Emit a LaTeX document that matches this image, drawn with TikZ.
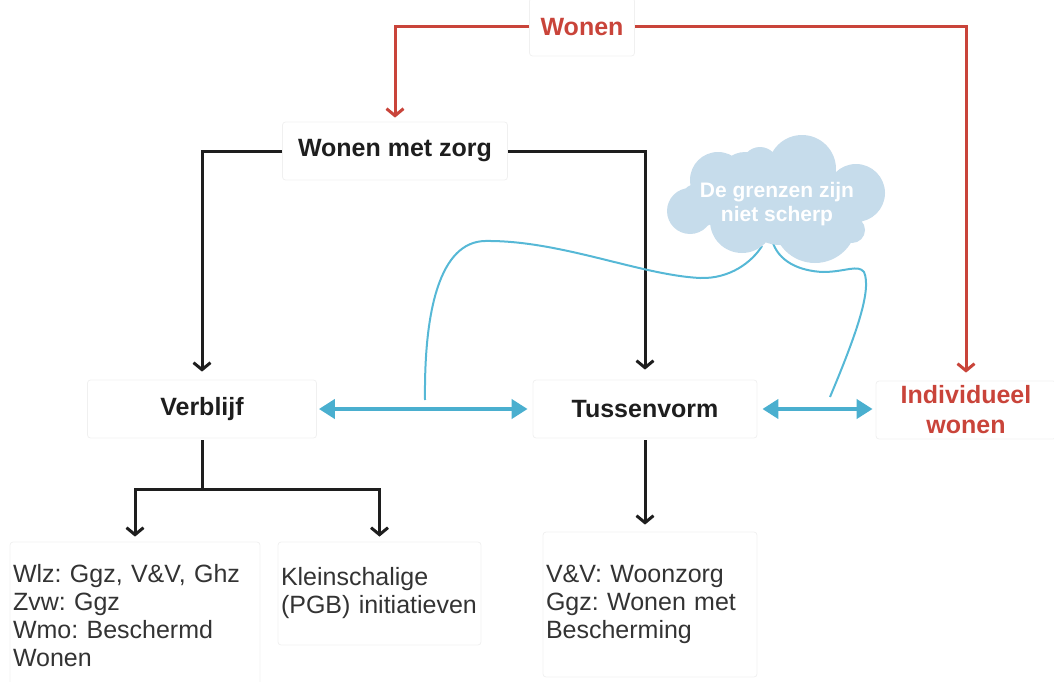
\documentclass[tikz,border=0pt]{standalone}
\usepackage{fontspec}
\setmainfont{Liberation Sans}
\usetikzlibrary{arrows.meta}
\definecolor{wred}{HTML}{C9443A}
\definecolor{wblue}{HTML}{4AAFCF}
\definecolor{cblue}{HTML}{56B8D6}
\definecolor{cloudc}{HTML}{C6DCEB}
\definecolor{faint}{HTML}{F0F0F0}
\definecolor{titc}{HTML}{1E1E1E}
\definecolor{txtc}{HTML}{333333}
\frenchspacing
\begin{document}
\begin{tikzpicture}[x=1pt,y=-1pt,
  box/.style={draw=faint, line width=0.8pt, rounded corners=3pt, inner sep=0pt,
    minimum height=58pt, text=titc, font=\fontsize{25}{30}\selectfont\bfseries},
  txt/.style={draw=faint, line width=0.8pt, rounded corners=3pt, inner xsep=3pt,
    inner ysep=0pt, align=left, text=txtc, font=\fontsize{25}{28}\selectfont},
  blk/.style={line width=3pt, draw=titc, -{Straight Barb[length=7pt,width=17pt]}},
  plain/.style={line width=3pt, draw=titc},
  redl/.style={line width=3pt, draw=wred, -{Straight Barb[length=7pt,width=17pt]}},
  barrow/.style={line width=4pt, draw=wblue, {Triangle[length=16pt,width=19pt]}-{Triangle[length=16pt,width=19pt]}},
  curve/.style={line width=2pt, draw=cblue},
  cloudtxt/.style={text=white, align=center, font=\fontsize{21}{24}\selectfont\bfseries}
]
\useasboundingbox (0,0) rectangle (1054,682);

% boxes
\node[box, minimum width=105pt, text=wred] (wonen) at (582,27) {Wonen};
\node[box, minimum width=225pt] (wmz) at (395,151) {Wonen met zorg};
\node[box, minimum width=229pt] (verb) at (202,409) {Verblijf};
\node[box, minimum width=224pt] (tus) at (645,409) {Tussenvorm};
\node[box, minimum width=180pt, text=wred, align=center] (ind) at (966,410) {Individueel\\wonen};

\node[txt, text width=244pt, minimum height=148pt] (b1) at (135,616)
  {Wlz: Ggz, V\&V, Ghz\\Zvw: Ggz\\Wmo: Beschermd\\Wonen};
\node[txt, text width=197pt, minimum height=103pt] (b2) at (379.5,593.5)
  {Kleinschalige\\(PGB) initiatieven};
\node[txt, text width=208pt, minimum height=145pt] (b3) at (650,604.5)
  {V\&V: Woonzorg\\Ggz: Wonen met\\Bescherming};

% red connectors
\draw[redl, shorten >=4pt] (wonen.west) -| (wmz.north);
\draw[redl, shorten >=8pt] (wonen.east) -| (ind.north);

% black connectors
\draw[blk, shorten >=8pt] (wmz.west) -| (verb.north);
\draw[blk, shorten >=10pt] (wmz.east) -| (tus.north);
\coordinate (j) at (202,489);
\draw[plain, shorten <=2pt] (verb.south) -- (j);
\draw[blk, shorten >=5pt] (j) -| (b1.north);
\draw[blk, shorten >=5pt] (j) -| (b2.north);
\draw[blk, shorten <=2pt, shorten >=7pt] (tus.south) -- (tus.south |- b3.north);

% blue double arrows
\draw[barrow, shorten <=2pt, shorten >=5pt] (verb.east) -- (tus.west);
\draw[barrow, shorten <=5pt, shorten >=3pt] (tus.east) -- (tus.east -| ind.west);

% curves to the cloud
\coordinate (c1) at (425,400);
\coordinate (c2) at (830,397);
\coordinate (k1) at (762,246);
\coordinate (k2) at (772,240);
\draw[curve] (c1) .. controls (424,310) and (440,242) .. (485,241)
  .. controls (560,240) and (640,275) .. (700,278)
  .. controls (730,279) and (752,262) .. (k1);
\draw[curve] (k2) .. controls (778,262) and (800,271) .. (823,272)
  .. controls (845,272) and (858,264) .. (864,272)
  .. controls (872,290) and (856,335) .. (c2);

% cloud
\fill[cloudc] (690,211) circle[radius=23pt]
  (718,180) circle[radius=28pt]
  (745,178) circle[radius=26pt]
  (760,165) circle[radius=18pt]
  (802,169) circle[radius=34pt]
  (856,193) circle[radius=29pt]
  (852,230) circle[radius=13pt]
  (815,221) circle[radius=42pt]
  (742,221) circle[radius=32pt]
  (780,205) circle[radius=40pt]
  (700,205) circle[radius=22pt];
\node[cloudtxt] (cloud) at (777,204) {De grenzen zijn\\niet scherp};
\end{tikzpicture}
\end{document}
